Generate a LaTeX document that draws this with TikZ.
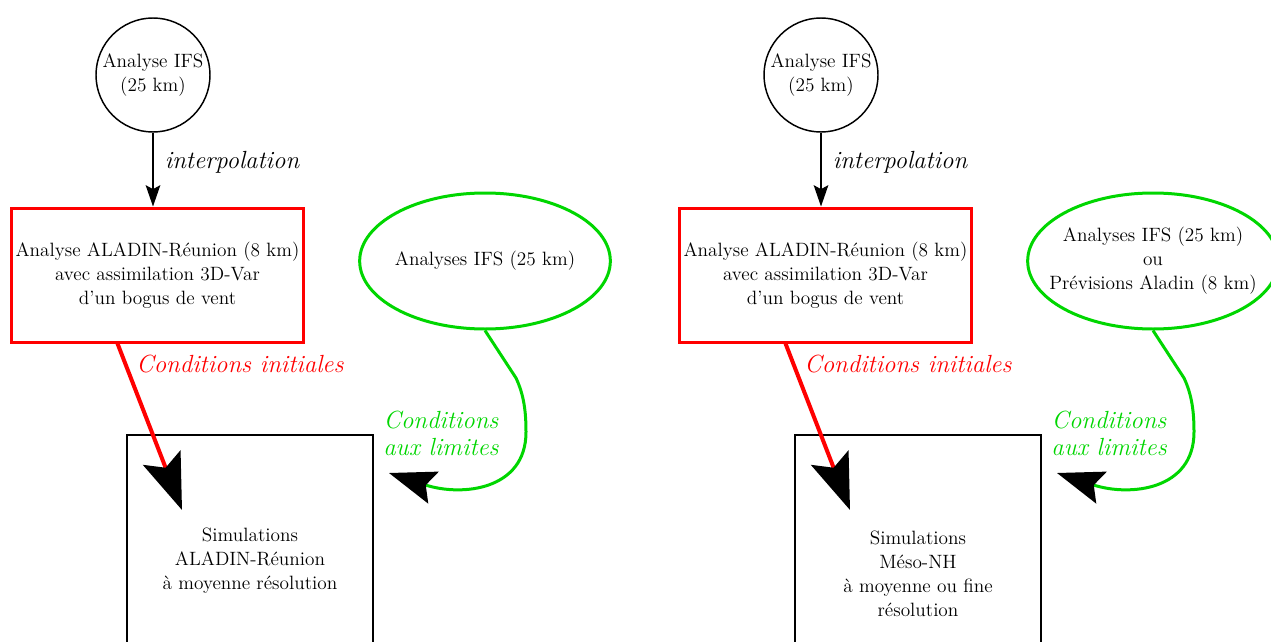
\documentclass[tikz,border=0pt]{standalone}
\usetikzlibrary{arrows.meta,shapes.geometric,calc}
\definecolor{vert}{RGB}{0,214,0}
\begin{document}
\begin{tikzpicture}[x=0.75pt,y=-0.75pt,
  txt/.style={font=\fontsize{14.45}{18}\selectfont, align=center},
  lbl/.style={font=\fontsize{18.6}{20.5}\selectfont\itshape, align=center},
  src/.style={circle, draw, line width=1.1pt, minimum size=85.5pt, inner sep=0pt, txt},
  ana/.style={rectangle, draw=red, line width=2.25pt, minimum width=219pt, minimum height=100.5pt, inner xsep=0pt, txt},
  bnd/.style={ellipse, draw=vert, line width=2.25pt, minimum width=188pt, minimum height=102pt, inner ysep=0pt, inner xsep=-15pt, txt},
  sim/.style={rectangle, draw, line width=1.5pt, minimum width=184.5pt, anchor=north, txt},
  interp/.style={-{Stealth[length=16pt,width=11pt,inset=3pt]}, line width=1.1pt},
  ci/.style={red, line width=3pt, -{Stealth[black,length=42pt,width=30pt,inset=8pt]}},
  cl/.style={vert, line width=2.25pt, -{Stealth[black,length=35pt,width=25pt,inset=6pt]}},
]
\useasboundingbox (0,0) rectangle (1271,642);
\clip (0,0) rectangle (1271,642);

% ---------- left ----------
\node[src] (cL) at (153,75) {Analyse IFS\\(25 km)};
\node[ana] (aL) at (157.5,275) {Analyse ALADIN-Réunion (8 km)\\avec assimilation 3D-Var\\d'un bogus de vent};
\node[bnd] (bL) at (485,261) {Analyses IFS (25 km)};
\node[sim, minimum height=189pt] (sL) at (250,434) {Simulations\\ALADIN-Réunion\\à moyenne résolution};
\node[lbl] (iL) at (232,162) {interpolation};
\node[lbl, text=red] (ciLt) at (240,364) {Conditions initiales};
\node[lbl, text=vert] (clLt) at (441,433.5) {Conditions\\aux limites};
\coordinate (tipCiL) at (182,510);
\coordinate (kL) at (516,378);
\coordinate (mL) at (526,432);
\coordinate (tipClL) at (389,473);
\draw[interp] (cL.south) -- (cL.south |- aL.north);
\draw[ci] ($(aL.south)+(-40,0)$) -- (tipCiL);
\draw[cl] (bL.south) -- (kL) .. controls (524,395) and (526,412) .. (mL)
  .. controls (526,490) and (462,497) .. (tipClL);

% ---------- right ----------
\node[src] (cR) at (821,75) {Analyse IFS\\(25 km)};
\node[ana] (aR) at (825.5,275) {Analyse ALADIN-Réunion (8 km)\\avec assimilation 3D-Var\\d'un bogus de vent};
\node[bnd] (bR) at (1153,261) {Analyses IFS (25 km)\\ou\\Prévisions Aladin (8 km)};
\node[sim, minimum height=208.5pt] (sR) at (918,434) {Simulations\\Méso-NH\\à moyenne ou fine\\résolution};
\node[lbl] (iR) at (900,162) {interpolation};
\node[lbl, text=red] (ciRt) at (908,364) {Conditions initiales};
\node[lbl, text=vert] (clRt) at (1109,433.5) {Conditions\\aux limites};
\coordinate (tipCiR) at (850,510);
\coordinate (kR) at (1184,378);
\coordinate (mR) at (1194,432);
\coordinate (tipClR) at (1057,473);
\draw[interp] (cR.south) -- (cR.south |- aR.north);
\draw[ci] ($(aR.south)+(-40,0)$) -- (tipCiR);
\draw[cl] (bR.south) -- (kR) .. controls (1192,395) and (1194,412) .. (mR)
  .. controls (1194,490) and (1130,497) .. (tipClR);
\end{tikzpicture}
\end{document}
